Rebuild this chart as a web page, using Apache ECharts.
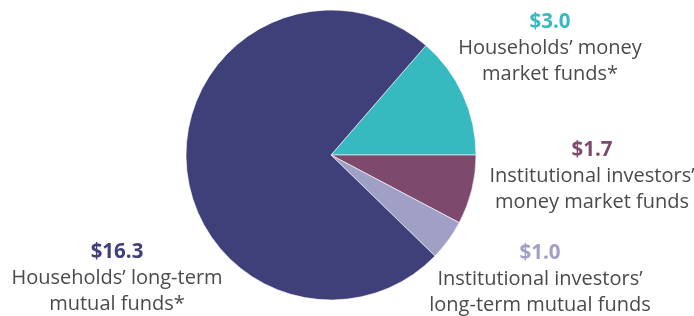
<!DOCTYPE html>
<html>
<head>
<meta charset="utf-8">
<script src="https://cdn.jsdelivr.net/npm/echarts@6/dist/echarts.min.js"></script>
<style>
  html, body { margin: 0; padding: 0; background: #fff; }
  #chart { width: 694px; height: 316px; }
</style>
</head>
<body>
<div id="chart"></div>
<script>
// values in trillions of dollars
const names = [
  'Households’ money\nmarket funds*',
  'Institutional investors’\nmoney market funds',
  'Institutional investors’\nlong-term mutual funds',
  'Households’ long-term\nmutual funds*'
]
const values = [3.0, 1.7, 1.0, 16.3]
const colors = ['#36b9bf', '#7d4a6d', '#a09fc6', '#3f407a']
// where each label block is centred (top of the value line)
const labelSpots = [[550, 9], [592, 137], [540, 240], [117, 239]]

const total = values.reduce((a, b) => a + b, 0)
const chart = echarts.init(document.getElementById('chart'))

chart.setOption({
  animation: false,
  series: [{
    type: 'pie',
    center: [331, 155],
    radius: 145,
    startAngle: 360 * values[0] / total,
    clockwise: true,
    itemStyle: { borderColor: '#fff', borderWidth: 0.6 },
    label: {
      show: true,
      position: 'outside',
      overflow: 'none',
      formatter: p => `{v${p.dataIndex}|$${p.value.toFixed(1)}}\n{n|${p.name}}`,
      align: 'center',
      rich: Object.assign({
        n: { fontFamily: 'Open Sans', fontSize: 20, color: '#4a4a4a', lineHeight: 26, align: 'center' }
      }, ...colors.map((c, i) => ({
        ['v' + i]: { fontFamily: 'Open Sans', fontSize: 20.5, fontWeight: 'bold', color: c, lineHeight: 26, align: 'center' }
      })))
    },
    labelLine: { show: false },
    labelLayout: p => ({
      x: labelSpots[p.dataIndex][0],
      y: labelSpots[p.dataIndex][1],
      align: 'center',
      verticalAlign: 'top'
    }),
    emphasis: { disabled: true },
    data: values.map((v, i) => ({
      name: names[i],
      value: v,
      itemStyle: { color: colors[i] }
    }))
  }]
})
</script>
</body>
</html>
